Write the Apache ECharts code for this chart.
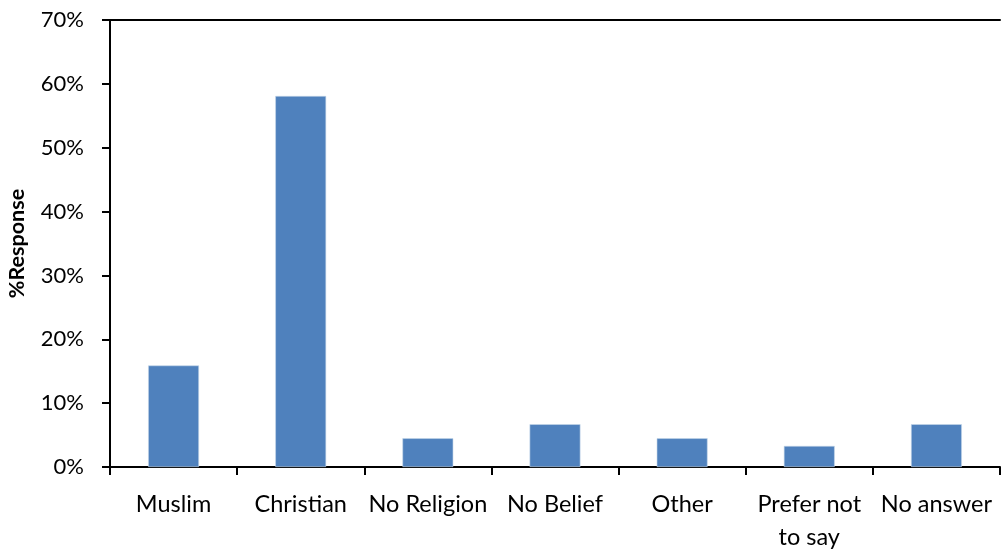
<!DOCTYPE html>
<html>
<head>
<meta charset="utf-8">
<script src="https://cdn.jsdelivr.net/npm/echarts@6/dist/echarts.min.js"></script>
<style>
html,body{margin:0;padding:0;background:#fff;}
#chart{width:1001px;height:551px;}
</style>
</head>
<body>
<div id="chart"></div>
<script>
const categories = ['Muslim', 'Christian', 'No Religion', 'No Belief', 'Other', 'Prefer not\nto say', 'No answer'];
const values = [15.9, 58.1, 4.5, 6.7, 4.5, 3.3, 6.7];
const yTicks = { min: 0, max: 70, interval: 10 };
const yTitle = '%Response';

const FONT = 'Lato';
const chart = echarts.init(document.getElementById('chart'), null, { renderer: 'canvas' });
chart.setOption({
  animation: false,
  backgroundColor: '#ffffff',
  grid: { left: 110, right: 1, top: 20, bottom: 84, containLabel: false, outerBoundsMode: 'none' },
  xAxis: [{
    type: 'category',
    data: categories,
    axisLine: { lineStyle: { color: '#000', width: 2 } },
    axisTick: { show: true, length: 8, lineStyle: { color: '#000', width: 2 } },
    axisLabel: { color: '#000', fontFamily: FONT, fontSize: 23.5, margin: 21, lineHeight: 33, interval: 0 },
    splitLine: { show: false }
  }, {
    type: 'category',
    position: 'top',
    data: categories,
    axisLine: { lineStyle: { color: '#000', width: 2 } },
    axisTick: { show: false },
    axisLabel: { show: false },
    splitLine: { show: false }
  }],
  yAxis: {
    type: 'value',
    min: yTicks.min, max: yTicks.max, interval: yTicks.interval,
    name: yTitle,
    nameLocation: 'middle',
    nameGap: 82,
    nameRotate: 90,
    nameTextStyle: { color: '#000', fontFamily: FONT, fontSize: 21.5, fontWeight: 'bold' },
    axisLine: { show: true, lineStyle: { color: '#000', width: 2 } },
    axisTick: { show: true, length: 8, lineStyle: { color: '#000', width: 2 } },
    axisLabel: { color: '#000', fontFamily: FONT, fontSize: 22, margin: 26, formatter: v => v + '%' },
    splitLine: { show: false }
  },
  series: [{
    type: 'bar',
    data: values,
    barWidth: '40%',
    itemStyle: { color: '#4F81BD', borderColor: '#C6D6EA', borderWidth: 0.6 }
  }]
});
</script>
</body>
</html>
